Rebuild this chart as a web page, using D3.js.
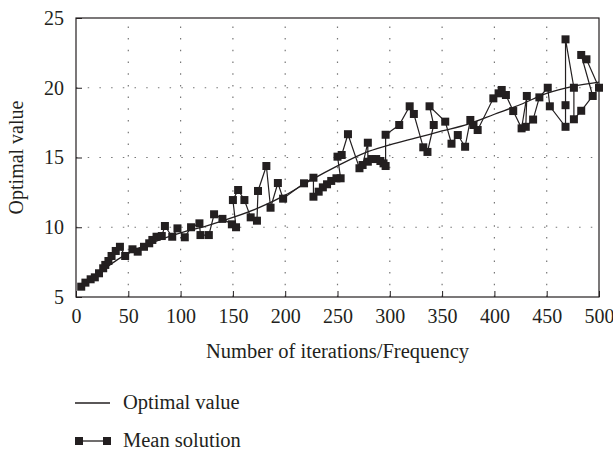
<!DOCTYPE html>
<html>
<head>
    <meta charset="utf-8">
    <script src="https://cdn.jsdelivr.net/npm/d3@7"></script>
    <style>
        body { margin: 0; background: white; }
        svg { display: block; }
        text { font-family: "Liberation Serif", "Times New Roman", serif; fill: #231f20; }
    </style>
</head>
<body>
    <div id="chart"></div>
    <script>
        // Mean solution (iterations, value)
        const meanIter = [5, 9, 14, 18, 22, 26, 28, 31, 34, 38, 42, 47, 54, 59, 65, 70, 73, 77, 82, 85,
            92, 97, 104, 110, 118, 119, 127, 132, 140, 149, 153, 150, 155, 161, 167, 173, 174, 182, 186, 193,
            198, 218, 227, 227, 232, 236, 240, 244, 249, 253, 250, 254, 260, 271, 274, 279, 279, 283, 287, 291,
            294, 296, 296, 309, 319, 323, 332, 336, 342, 338, 353, 359, 365, 372, 377, 380, 384, 399, 404, 407,
            411, 418, 426, 431, 430, 437, 443, 451, 453, 468, 468, 468, 476, 476, 483, 494, 483, 488, 500];
        const meanValue = [5.74, 6.03, 6.27, 6.41, 6.7, 7.06, 7.3, 7.58, 7.94, 8.3, 8.6, 7.94, 8.42, 8.25, 8.6, 8.85, 9.09, 9.32, 9.37, 10.09,
            9.32, 9.92, 9.28, 10.0, 10.28, 9.44, 9.44, 10.93, 10.6, 10.21, 10.0, 11.95, 12.67, 11.95, 10.71, 10.47, 12.6, 14.39, 11.4, 13.17,
            12.05, 13.15, 13.55, 12.19, 12.55, 12.86, 13.08, 13.32, 13.51, 13.51, 15.06, 15.18, 16.67, 14.23, 14.46, 16.06, 14.7, 14.89, 14.89, 14.75,
            14.58, 14.39, 16.63, 17.33, 18.67, 18.12, 15.73, 15.4, 17.33, 18.67, 17.57, 15.99, 16.61, 15.77, 17.69, 17.33, 16.97, 19.24, 19.6, 19.84,
            19.48, 18.33, 17.09, 19.41, 17.2, 17.72, 19.31, 20.0, 18.67, 17.2, 18.75, 23.47, 20.0, 17.74, 18.35, 19.41, 22.35, 22.04, 20.0];

        // Optimal value curve
        const optIter = [5, 20, 40, 60, 80, 100, 125, 150, 175, 200, 225, 250, 275, 300, 325, 350, 375, 400, 425, 450, 475, 500];
        const optValue = [5.8, 6.6, 7.7, 8.5, 9.1, 9.6, 10.1, 10.7, 11.4, 12.3, 13.4, 14.4, 15.3, 15.9, 16.4, 16.9, 17.4, 18.1, 18.8, 19.6, 20.1, 20.4];

        const xTicks = [0, 50, 100, 150, 200, 250, 300, 350, 400, 450, 500];
        const yTicks = [5, 10, 15, 20, 25];

        const width = 613;
        const height = 452;
        const margin = {left: 76, right: 14, top: 18, bottom: 155};
        const ink = "#231f20";
        const fs = 20;

        const svg = d3.select("#chart")
            .append("svg")
            .attr("width", width)
            .attr("height", height);

        const x = d3.scaleLinear().domain([0, 500]).range([margin.left, width - margin.right]);
        const y = d3.scaleLinear().domain([5, 25]).range([height - margin.bottom, margin.top]);

        // dotted grid
        svg.append("g")
            .selectAll("line")
            .data(xTicks.slice(1, -1))
            .join("line")
            .attr("x1", d => x(d)).attr("x2", d => x(d))
            .attr("y1", y(5)).attr("y2", y(25))
            .attr("stroke", "#777")
            .attr("stroke-width", 1.2)
            .attr("stroke-dasharray", "1.5,10.2");

        svg.append("g")
            .selectAll("line")
            .data(yTicks.slice(1, -1))
            .join("line")
            .attr("x1", x(0)).attr("x2", x(500))
            .attr("y1", d => y(d)).attr("y2", d => y(d))
            .attr("stroke", "#777")
            .attr("stroke-width", 1.2)
            .attr("stroke-dasharray", "1.5,10.2");

        // axes with inner ticks
        const xAxis = svg.append("g")
            .attr("transform", `translate(0, ${y(5)})`)
            .call(d3.axisBottom(x).tickValues(xTicks).tickSizeInner(-6).tickSizeOuter(0).tickPadding(12));
        const yAxis = svg.append("g")
            .attr("transform", `translate(${x(0)}, 0)`)
            .call(d3.axisLeft(y).tickValues(yTicks).tickSizeInner(-6).tickSizeOuter(0).tickPadding(12));

        [xAxis, yAxis].forEach(a => {
            a.select(".domain").remove();
            a.selectAll("line").attr("stroke", ink).attr("stroke-width", 1);
            a.selectAll("text").attr("font-size", fs).attr("fill", ink)
                .style("font-family", "'Liberation Serif', serif");
        });

        // frame
        svg.append("rect")
            .attr("x", x(0)).attr("y", y(25))
            .attr("width", x(500) - x(0)).attr("height", y(5) - y(25))
            .attr("fill", "none")
            .attr("stroke", ink)
            .attr("stroke-width", 1.2);

        // optimal value curve
        const optLine = d3.line()
            .x((d, i) => x(optIter[i]))
            .y(d => y(d))
            .curve(d3.curveMonotoneX);
        svg.append("path")
            .attr("d", optLine(optValue))
            .attr("fill", "none")
            .attr("stroke", ink)
            .attr("stroke-width", 1.3);

        // mean solution
        const meanLine = d3.line()
            .x((d, i) => x(meanIter[i]))
            .y(d => y(d));
        svg.append("path")
            .attr("d", meanLine(meanValue))
            .attr("fill", "none")
            .attr("stroke", ink)
            .attr("stroke-width", 1.2);

        const sq = 8;
        svg.append("g")
            .selectAll("rect")
            .data(meanValue)
            .join("rect")
            .attr("x", (d, i) => x(meanIter[i]) - sq / 2)
            .attr("y", d => y(d) - sq / 2)
            .attr("width", sq)
            .attr("height", sq)
            .attr("fill", ink);

        // axis titles
        svg.append("text")
            .attr("x", (x(0) + x(500)) / 2)
            .attr("y", 358)
            .attr("text-anchor", "middle")
            .attr("font-size", fs + 0.5)
            .text("Number of iterations/Frequency");

        svg.append("text")
            .attr("transform", `translate(23, ${(y(5) + y(25)) / 2}) rotate(-90)`)
            .attr("text-anchor", "middle")
            .attr("font-size", fs)
            .text("Optimal value");

        // legend
        const legend = svg.append("g");
        legend.append("line")
            .attr("x1", 75).attr("x2", 110)
            .attr("y1", 403).attr("y2", 403)
            .attr("stroke", ink).attr("stroke-width", 1.3);
        legend.append("text")
            .attr("x", 123).attr("y", 409)
            .attr("font-size", fs + 0.5)
            .text("Optimal value");

        legend.append("line")
            .attr("x1", 79).attr("x2", 107)
            .attr("y1", 441).attr("y2", 441)
            .attr("stroke", ink).attr("stroke-width", 1.3);
        legend.selectAll(".lg-sq")
            .data([79, 107])
            .join("rect")
            .attr("class", "lg-sq")
            .attr("x", d => d - sq / 2)
            .attr("y", 441 - sq / 2)
            .attr("width", sq).attr("height", sq)
            .attr("fill", ink);
        legend.append("text")
            .attr("x", 123).attr("y", 447)
            .attr("font-size", fs + 0.5)
            .text("Mean solution");
    </script>
</body>
</html>
